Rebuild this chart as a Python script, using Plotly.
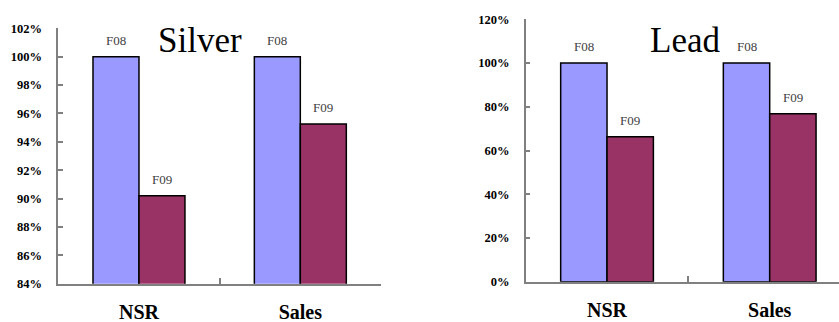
import plotly.graph_objects as go

categories = ["NSR", "Sales"]
series_names = ["F08", "F09"]
silver_f08 = [100.0, 100.0]
silver_f09 = [90.2, 95.25]
lead_f08 = [100.0, 100.0]
lead_f09 = [66.3, 76.8]
silver_ticks = [84, 86, 88, 90, 92, 94, 96, 98, 100, 102]
lead_ticks = [0, 20, 40, 60, 80, 100, 120]

C08 = "#9999FF"
C09 = "#993366"
SERIF = "Liberation Serif"
W, H = 839, 322

fig = go.Figure()

def add_bars(xa, ya, f08, f09):
    for name, vals, col in [(series_names[0], f08, C08), (series_names[1], f09, C09)]:
        fig.add_trace(go.Bar(
            x=categories, y=vals, name=name, marker=dict(color=col, line=dict(color="black", width=1.5)),
            xaxis=xa, yaxis=ya, showlegend=False, hoverinfo="skip"))

add_bars("x", "y", silver_f08, silver_f09)
add_bars("x2", "y2", lead_f08, lead_f09)

bargap = 0.43
half = (1 - bargap) / 4

def add_labels(xa, ya, f08, f09):
    for i, c in enumerate(categories):
        for name, vals, off in [(series_names[0], f08, -half), (series_names[1], f09, half)]:
            fig.add_annotation(x=i + off, y=vals[i], xref=xa, yref=ya, text=name, showarrow=False,
                               xanchor="center", yanchor="bottom", yshift=7,
                               font=dict(family=SERIF, size=13, color="#404040"))

add_labels("x", "y", silver_f08, silver_f09)
add_labels("x2", "y2", lead_f08, lead_f09)

axis_common = dict(showgrid=False, zeroline=False, showline=True, linecolor="#808080", linewidth=1.5,
                   automargin=False)

xcommon = dict(axis_common, type="category", tickson="boundaries", ticks="inside", ticklen=6,
               tickcolor="#808080", tickwidth=1.5, ticklabelstandoff=10,
               tickfont=dict(family=SERIF, size=20, color="black", weight="bold"))
ycommon = dict(axis_common, ticks="inside", ticklen=5, tickcolor="#808080", tickwidth=1.5,
               ticklabelstandoff=12,
               tickfont=dict(family=SERIF, size=12.5, color="black", weight="bold"))

x1 = (58.3 / W, 381 / W)
x2 = (525.7 / W, 1.0)
y1 = (1 - 283.7 / H, 1 - 28.3 / H)
y2 = (1 - 281.7 / H, 1 - 19.3 / H)

fig.update_layout(
    width=W, height=H, margin=dict(l=0, r=0, t=0, b=0),
    paper_bgcolor="white", plot_bgcolor="white",
    barmode="group", bargap=bargap, bargroupgap=0,
    xaxis=dict(xcommon, domain=list(x1), anchor="y", range=[-0.5, 1.5]),
    yaxis=dict(ycommon, domain=list(y1), anchor="x", range=[84, 102],
               tickvals=silver_ticks, ticktext=[f"{t}%" for t in silver_ticks]),
    xaxis2=dict(xcommon, domain=list(x2), anchor="y2", range=[-0.5, 1.426]),
    yaxis2=dict(ycommon, domain=list(y2), anchor="x2", range=[0, 120],
                tickvals=lead_ticks, ticktext=[f"{t}%" for t in lead_ticks]),
)

fig.add_annotation(x=200 / W, y=1 - 41 / H, xref="paper", yref="paper", text="Silver", showarrow=False,
                   xanchor="center", yanchor="middle", font=dict(family=SERIF, size=35, color="black"))
fig.add_annotation(x=685 / W, y=1 - 41 / H, xref="paper", yref="paper", text="Lead", showarrow=False,
                   xanchor="center", yanchor="middle", font=dict(family=SERIF, size=35, color="black"))

fig.write_html("out.html")
